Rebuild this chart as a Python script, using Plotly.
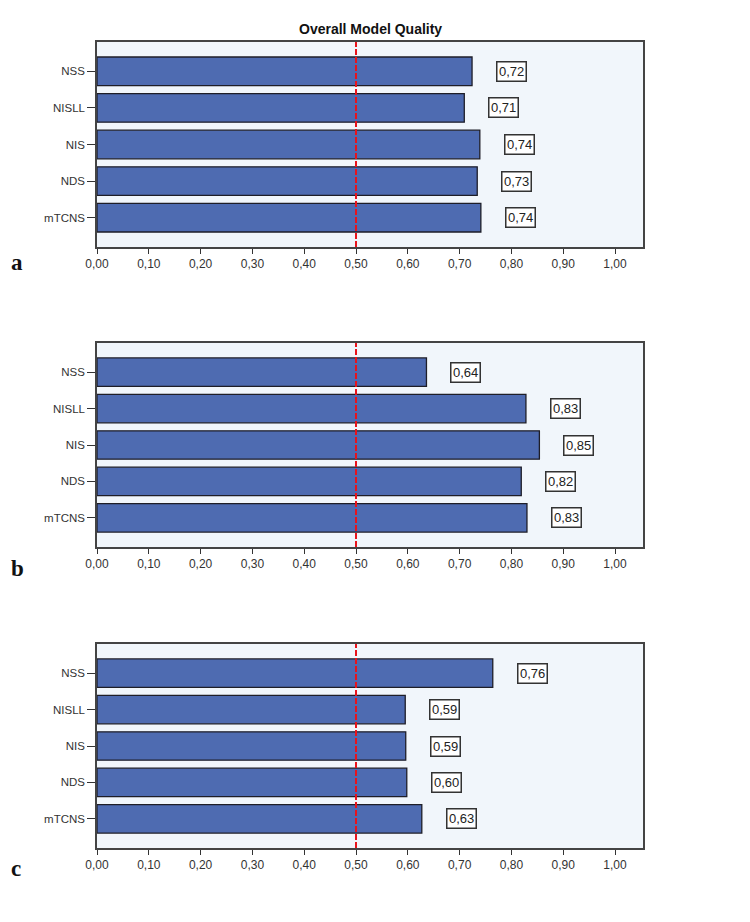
import plotly.graph_objects as go

categories = ["NSS", "NISLL", "NIS", "NDS", "mTCNS"]
values_a = [0.724, 0.709, 0.739, 0.734, 0.741]
values_b = [0.636, 0.828, 0.854, 0.819, 0.830]
values_c = [0.764, 0.595, 0.596, 0.598, 0.627]
labels_a = ["0,72", "0,71", "0,74", "0,73", "0,74"]
labels_b = ["0,64", "0,83", "0,85", "0,82", "0,83"]
labels_c = ["0,76", "0,59", "0,59", "0,60", "0,63"]
x_tick_vals = [0.0, 0.1, 0.2, 0.3, 0.4, 0.5, 0.6, 0.7, 0.8, 0.9, 1.0]
x_tick_text = ["0,00", "0,10", "0,20", "0,30", "0,40", "0,50", "0,60", "0,70", "0,80", "0,90", "1,00"]
panel_letters = ["a", "b", "c"]
reference_value = 0.5
title_text = "Overall Model Quality"

W, H = 750, 922
OFF = 8  # page body margin
LEFT, RIGHT = 97 - OFF, 643 - OFF
panels_px = [(42 - OFF, 247 - OFF), (343 - OFF, 547 - OFF), (644 - OFF, 848 - OFF)]
letter_y_px = [262 - OFF, 568 - OFF, 868 - OFF]

fig = go.Figure()
series = [(values_a, labels_a), (values_b, labels_b), (values_c, labels_c)]
ypos = list(range(len(categories)))

for i, ((vals, labs), (top, bot)) in enumerate(zip(series, panels_px)):
    n = i + 1
    xa = "x" if n == 1 else f"x{n}"
    ya = "y" if n == 1 else f"y{n}"
    fig.add_trace(go.Bar(
        x=vals, y=ypos, orientation="h", width=0.78,
        marker=dict(color="#4e6bb1", line=dict(color="#1e1e28", width=1.3)),
        xaxis=xa, yaxis=ya, showlegend=False, hoverinfo="skip",
    ))
    fig.add_shape(type="line", xref=xa, yref=f"{ya} domain",
                  x0=reference_value, x1=reference_value, y0=0, y1=1,
                  line=dict(color="#e8141c", width=2, dash="6px,2px"))
    for v, lab, yy in zip(vals, labs, ypos):
        fig.add_annotation(x=v, y=yy, xref=xa, yref=ya, text=lab,
                           showarrow=False, xanchor="left", xshift=24,
                           font=dict(family="Arial, Liberation Sans", size=13, color="#222"),
                           bgcolor="white", bordercolor="#333", borderwidth=1.5, borderpad=1.5)
    dom_y = [1 - bot / H, 1 - top / H]
    axis_x = dict(domain=[LEFT / W, RIGHT / W], range=[0, 1.054],
                  tickvals=x_tick_vals, ticktext=x_tick_text,
                  ticks="outside", ticklen=5, tickwidth=1.3, tickcolor="#333",
                  showline=True, linecolor="#444", linewidth=1.5, mirror=True,
                  showgrid=False, zeroline=False, automargin=False,
                  tickfont=dict(family="Arial, Liberation Sans", size=12, color="#333"),
                  anchor=ya)
    axis_y = dict(domain=dom_y, range=[4.8, -0.8],
                  tickvals=ypos, ticktext=categories,
                  ticks="outside", ticklen=8, tickwidth=1.3, tickcolor="#333",
                  showline=True, linecolor="#444", linewidth=1.5, mirror=True,
                  showgrid=False, zeroline=False, automargin=False,
                  tickfont=dict(family="Arial, Liberation Sans", size=11.5, color="#333"),
                  anchor=xa)
    fig.update_layout(**{("xaxis" if n == 1 else f"xaxis{n}"): axis_x,
                         ("yaxis" if n == 1 else f"yaxis{n}"): axis_y})
    fig.add_shape(type="rect", xref=f"{xa} domain", yref=f"{ya} domain",
                  x0=0, x1=1, y0=0, y1=1, fillcolor="#f1f6fb",
                  line=dict(width=0), layer="below")
    fig.add_annotation(x=1 / W, y=1 - letter_y_px[i] / H, xref="paper", yref="paper",
                       text=f"<b>{panel_letters[i]}</b>", showarrow=False,
                       xanchor="left", yanchor="middle",
                       font=dict(family="Liberation Serif, Times New Roman", size=23, color="#111"))

fig.add_annotation(x=(370 - OFF) / W, y=1 - (29 - OFF) / H, xref="paper", yref="paper",
                   text=f"<b>{title_text}</b>", showarrow=False,
                   xanchor="center", yanchor="middle",
                   font=dict(family="Arial, Liberation Sans", size=14, color="#111"))

fig.update_layout(width=W, height=H, margin=dict(l=0, r=0, t=0, b=0, autoexpand=False),
                  paper_bgcolor="white", plot_bgcolor="rgba(0,0,0,0)",
                  template="none", bargap=0.2)

fig.write_html("out.html")
